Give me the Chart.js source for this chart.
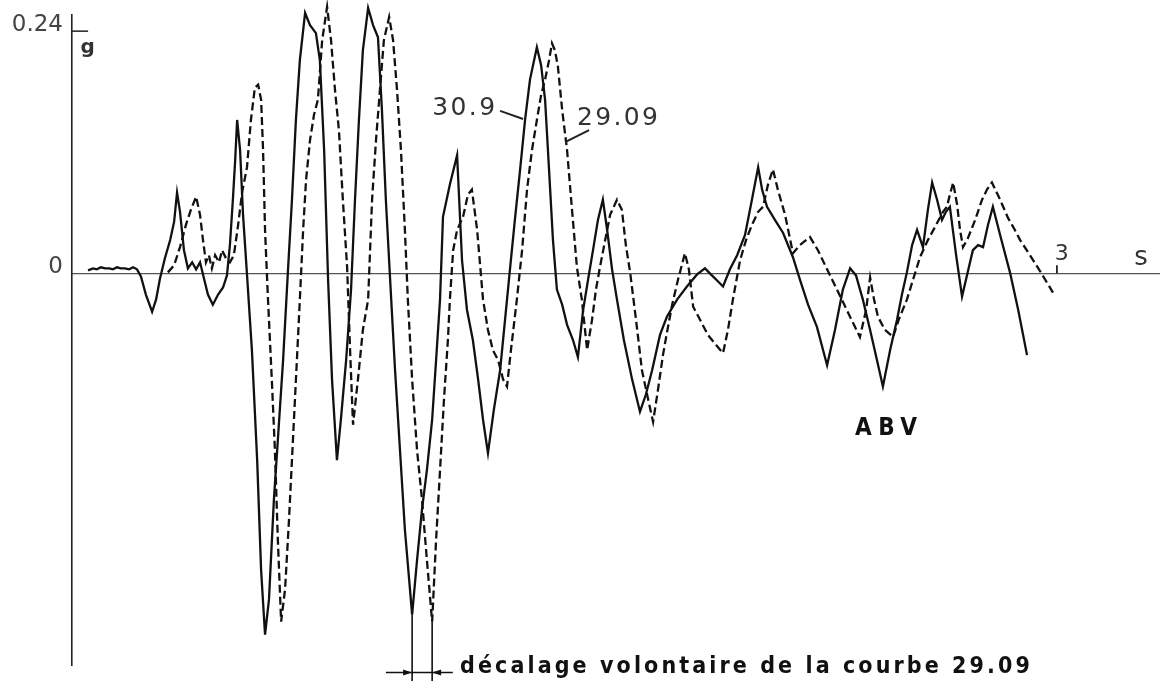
<!DOCTYPE html>
<html><head><meta charset="utf-8">
<script src="https://cdn.jsdelivr.net/npm/chart.js@4.4.1/dist/chart.umd.min.js"></script>
<style>html,body{margin:0;padding:0;background:#fff;overflow:hidden}canvas{display:block}</style>
</head><body>
<canvas id="c" width="1160" height="681"></canvas>
<script>
// ---- data (time in s, acceleration in g) ----
const seriesLabels = ['30.9', '29.09'];
const timeSolid = [0.049,0.064,0.076,0.088,0.101,0.113,0.125,0.137,0.149,0.161,0.174,0.186,0.198,
0.210,0.225,0.244,0.256,0.268,0.283,0.299,0.311,0.320,0.329,0.341,0.353,0.366,0.378,
0.390,0.402,0.414,0.429,0.445,0.460,0.472,0.481,0.490,0.497,0.503,0.512,0.521,0.533,
0.548,0.564,0.576,0.588,0.600,0.615,0.627,0.643,0.658,0.670,0.682,0.694,0.710,0.725,
0.743,0.755,0.768,0.780,0.792,0.807,0.819,0.835,0.850,0.862,0.874,0.886,0.902,0.917,
0.932,0.944,0.956,0.969,0.984,0.999,1.014,1.036,1.051,1.066,1.081,1.097,1.109,1.121,
1.130,1.151,1.173,1.188,1.203,1.221,1.237,1.252,1.267,1.285,1.304,1.319,1.334,1.349,
1.365,1.380,1.395,1.416,1.429,1.441,1.453,1.465,1.477,1.493,1.508,1.526,1.541,1.557,
1.572,1.587,1.602,1.617,1.630,1.645,1.660,1.681,1.706,1.730,1.748,1.767,1.791,1.812,
1.843,1.873,1.904,1.928,1.949,1.968,1.983,2.004,2.026,2.050,2.071,2.090,2.102,2.117,
2.141,2.166,2.196,2.217,2.242,2.269,2.300,2.324,2.348,2.370,2.388,2.409,2.431,2.452,
2.470,2.492,2.513,2.528,2.543,2.559,2.574,2.592,2.607,2.620,2.635,2.650,2.662,2.674,
2.693,2.711,2.726,2.744,2.760,2.775,2.790,2.805,2.827,2.857,2.882,2.909];
const accSolid = [0.003,0.005,0.004,0.006,0.005,0.005,0.004,0.006,0.005,0.005,0.004,0.006,0.004,
-0.003,-0.021,-0.038,-0.026,-0.005,0.015,0.033,0.051,0.080,0.061,0.023,0.005,0.011,0.004,
0.011,-0.005,-0.021,-0.031,-0.021,-0.014,-0.002,0.028,0.073,0.112,0.152,0.122,0.058,-0.001,
-0.076,-0.185,-0.294,-0.358,-0.323,-0.224,-0.165,-0.086,0.004,0.073,0.152,0.211,0.258,0.246,
0.238,0.211,0.122,-0.006,-0.105,-0.185,-0.145,-0.086,-0.016,0.073,0.152,0.221,0.263,0.246,
0.234,0.162,0.073,-0.006,-0.096,-0.175,-0.254,-0.338,-0.284,-0.234,-0.195,-0.145,-0.086,-0.026,
0.056,0.088,0.117,0.013,-0.036,-0.066,-0.105,-0.145,-0.178,-0.135,-0.096,-0.046,0.004,0.053,
0.103,0.152,0.192,0.224,0.206,0.172,0.103,0.033,-0.016,-0.031,-0.051,-0.066,-0.083,-0.036,
-0.006,0.023,0.053,0.073,0.043,0.004,-0.026,-0.066,-0.105,-0.137,-0.120,-0.096,-0.061,-0.043,
-0.026,-0.013,-0.001,0.005,-0.002,-0.008,-0.013,0.004,0.018,0.038,0.073,0.105,0.083,0.066,
0.053,0.040,0.016,-0.006,-0.031,-0.053,-0.091,-0.056,-0.016,0.005,-0.002,-0.026,-0.056,-0.086,
-0.112,-0.076,-0.046,-0.021,0.001,0.028,0.043,0.026,0.063,0.090,0.073,0.053,0.061,0.066,
0.018,-0.023,-0.002,0.023,0.028,0.026,0.048,0.066,0.038,0.001,-0.036,-0.081];
const timeDashed = [0.292,0.311,0.329,0.347,0.362,0.378,0.390,
0.399,0.408,0.417,0.426,0.436,0.448,0.457,
0.469,0.481,0.493,0.506,0.518,0.533,0.545,
0.557,0.567,0.576,0.582,0.588,0.597,0.609,
0.618,0.627,0.637,0.649,0.661,0.673,0.685,
0.694,0.704,0.713,0.725,0.737,0.749,0.762,
0.777,0.789,0.801,0.813,0.825,0.838,0.847,
0.856,0.871,0.886,0.902,0.914,0.926,0.938,
0.950,0.966,0.978,0.990,1.002,1.014,1.023,
1.036,1.051,1.066,1.081,1.097,1.109,1.121,
1.133,1.145,1.151,1.161,1.173,1.191,1.206,
1.218,1.234,1.252,1.267,1.282,1.298,1.313,
1.325,1.337,1.355,1.371,1.386,1.401,1.416,
1.429,1.441,1.453,1.462,1.471,1.480,1.493,
1.508,1.523,1.538,1.553,1.569,1.584,1.596,
1.608,1.624,1.639,1.660,1.675,1.687,1.700,
1.718,1.736,1.755,1.770,1.785,1.800,1.812,
1.828,1.846,1.867,1.879,1.892,1.913,1.937,
1.962,1.983,1.998,2.013,2.035,2.053,2.071,
2.090,2.105,2.120,2.135,2.150,2.172,2.196,
2.217,2.248,2.272,2.300,2.330,2.364,2.400,
2.419,2.431,2.443,2.455,2.476,2.501,2.518,
2.543,2.562,2.583,2.607,2.632,2.653,2.665,
2.674,2.684,2.696,2.705,2.714,2.729,2.751,
2.772,2.787,2.802,2.827,2.851,2.872,2.888,
2.918,2.949,2.988];
const accDashed = [0.001,0.008,0.026,0.048,0.063,0.076,0.058,
0.033,0.011,0.018,0.005,0.018,0.011,0.023,
0.015,0.011,0.018,0.048,0.080,0.105,0.152,
0.184,0.187,0.172,0.122,0.043,-0.026,-0.108,
-0.175,-0.264,-0.345,-0.313,-0.244,-0.165,-0.086,
-0.026,0.043,0.093,0.132,0.157,0.172,0.231,
0.264,0.231,0.182,0.142,0.073,0.006,-0.076,
-0.150,-0.105,-0.056,-0.026,0.073,0.132,0.182,
0.231,0.254,0.231,0.182,0.122,0.043,-0.026,
-0.105,-0.175,-0.224,-0.284,-0.345,-0.264,-0.195,
-0.125,-0.066,-0.026,0.023,0.043,0.056,0.078,
0.083,0.043,-0.026,-0.056,-0.076,-0.086,-0.105,
-0.112,-0.076,-0.026,0.023,0.083,0.122,0.152,
0.177,0.192,0.211,0.228,0.221,0.205,0.162,
0.122,0.063,0.006,-0.026,-0.076,-0.046,-0.016,
0.006,0.033,0.058,0.073,0.063,0.028,0.001,
-0.046,-0.096,-0.125,-0.147,-0.115,-0.081,-0.059,
-0.031,-0.006,0.020,0.004,-0.033,-0.046,-0.061,
-0.071,-0.079,-0.056,-0.026,0.013,0.033,0.048,
0.061,0.066,0.088,0.103,0.083,0.058,0.020,
0.028,0.036,0.023,0.004,-0.016,-0.039,-0.063,
-0.036,-0.004,-0.026,-0.043,-0.056,-0.063,-0.046,
-0.026,-0.006,0.016,0.033,0.048,0.061,0.066,
0.078,0.090,0.068,0.043,0.026,0.035,0.053,
0.073,0.083,0.090,0.073,0.055,0.043,0.033,
0.018,0.002,-0.019];
const yTickValues = [0, 0.24];
const yTickLabels = ['0', '0.24'];
const xTickValues = [3];
const xTickLabels = ['3'];
const unitY = 'g';
const unitX = 's';
const stationLabel = 'A B V';
const noteText = 'décalage volontaire de la courbe 29.09';

// ---- annotation layout (in axis units) ----
const ann = {
  lbl309: {t: 1.097, g: 0.157, w: 63},
  lead309: [[1.304, 0.161], [1.374, 0.153]],
  lbl2909: {t: 1.538, g: 0.147, w: 81},
  lead2909: [[1.575, 0.142], [1.502, 0.130]],
  station: {t: 2.385, g: -0.160, w: 62},
  unitY: {t: 0.026, g: 0.218},
  unitX: {t: 3.256, g: 0.008},
  xTickLbl: {t: 3.015, g: 0.013},
  yTickLen: 0.049, xTickLen: 0.008,
  dimY: -0.3955, dimFrom: 0.956, dimTo: 1.160,
  markBottom: -0.404,
  note: {t: 1.182, g: -0.3955, w: 570}
};

function fitText(ctx, text, font, x, y, w) {
  ctx.font = font;
  ctx.letterSpacing = '0px';
  const m = ctx.measureText(text).width;
  const ls = (w - m) / Math.max(1, text.length - 1);
  ctx.letterSpacing = ls.toFixed(2) + 'px';
  ctx.textAlign = 'left';
  ctx.textBaseline = 'alphabetic';
  ctx.fillText(text, x, y);
  ctx.letterSpacing = '0px';
}

const annotPlugin = {
  id: 'annot',
  afterDraw(chart) {
    const {ctx, scales: {x, y}} = chart;
    const X = v => x.getPixelForValue(v), Y = v => y.getPixelForValue(v);
    const seg = (a, b, c, d, w) => { ctx.lineWidth = w; ctx.beginPath(); ctx.moveTo(a, b); ctx.lineTo(c, d); ctx.stroke(); };
    ctx.save();
    ctx.strokeStyle = '#222'; ctx.fillStyle = '#222';
    seg(X(0), Y(yTickValues[1]), X(ann.yTickLen), Y(yTickValues[1]), 1.5);
    xTickValues.forEach(v => seg(X(v), Y(0), X(v), Y(ann.xTickLen), 1.8));
    ctx.fillStyle = '#333';
    ctx.font = 'bold 20px "DejaVu Sans", sans-serif'; ctx.textAlign = 'left'; ctx.textBaseline = 'alphabetic';
    ctx.fillText(unitY, X(ann.unitY.t), Y(ann.unitY.g));
    ctx.font = '26px "DejaVu Sans", sans-serif'; ctx.textAlign = 'center';
    ctx.fillText(unitX, X(ann.unitX.t), Y(ann.unitX.g));
    ctx.font = '22px "DejaVu Sans", sans-serif';
    ctx.fillText(xTickLabels[0], X(ann.xTickLbl.t), Y(ann.xTickLbl.g));
    fitText(ctx, seriesLabels[0], '25px "DejaVu Sans", sans-serif', X(ann.lbl309.t), Y(ann.lbl309.g), ann.lbl309.w);
    fitText(ctx, seriesLabels[1], '25px "DejaVu Sans", sans-serif', X(ann.lbl2909.t), Y(ann.lbl2909.g), ann.lbl2909.w);
    ctx.strokeStyle = '#222';
    seg(X(ann.lead309[0][0]), Y(ann.lead309[0][1]), X(ann.lead309[1][0]), Y(ann.lead309[1][1]), 2);
    seg(X(ann.lead2909[0][0]), Y(ann.lead2909[0][1]), X(ann.lead2909[1][0]), Y(ann.lead2909[1][1]), 2);
    ctx.fillStyle = '#111';
    fitText(ctx, stationLabel.replace(/ /g, ''), 'bold 24px "DejaVu Sans Condensed", "DejaVu Sans", sans-serif', X(ann.station.t), Y(ann.station.g), ann.station.w);
    const iS = accSolid.indexOf(Math.min(...accSolid.slice(70, 90)), 70);
    const iD = accDashed.indexOf(Math.min(...accDashed.slice(60, 75)), 60);
    const xs = X(timeSolid[iS]), xd = X(timeDashed[iD]);
    ctx.strokeStyle = '#111';
    seg(xs, Y(accSolid[iS]), xs, Y(ann.markBottom), 1.6);
    seg(xd, Y(accDashed[iD]), xd, Y(ann.markBottom), 1.6);
    const dy = Y(ann.dimY);
    seg(X(ann.dimFrom), dy, X(ann.dimTo), dy, 1.6);
    ctx.fillStyle = '#111';
    ctx.beginPath(); ctx.moveTo(xs, dy); ctx.lineTo(xs - 9, dy - 3); ctx.lineTo(xs - 9, dy + 3); ctx.closePath(); ctx.fill();
    ctx.beginPath(); ctx.moveTo(xd, dy); ctx.lineTo(xd + 9, dy - 3); ctx.lineTo(xd + 9, dy + 3); ctx.closePath(); ctx.fill();
    fitText(ctx, noteText, 'bold 23px "DejaVu Sans Condensed", "DejaVu Sans", sans-serif', X(ann.note.t), Y(ann.note.g), ann.note.w);
    ctx.restore();
  }
};

const toPts = (ts, vs) => ts.map((t, i) => ({x: t, y: vs[i]}));

new Chart(document.getElementById('c').getContext('2d'), {
  type: 'line',
  data: {
    datasets: [
      {label: seriesLabels[0], data: toPts(timeSolid, accSolid), borderColor: '#111', borderWidth: 2.3,
       pointRadius: 0, tension: 0, fill: false, clip: false},
      {label: seriesLabels[1], data: toPts(timeDashed, accDashed), borderColor: '#111', borderWidth: 2.3,
       borderDash: [8, 4], pointRadius: 0, tension: 0, fill: false, clip: false}
    ]
  },
  options: {
    responsive: false, animation: false, devicePixelRatio: 1,
    layout: {padding: {top: 15, bottom: 16, left: 0, right: 0}},
    plugins: {legend: {display: false}, tooltip: {enabled: false}},
    scales: {
      x: {
        type: 'linear', min: 0, max: 3.314, position: {y: 0},
        grid: {display: false, drawTicks: false},
        ticks: {display: false},
        border: {display: true, color: '#555', width: 1.3}
      },
      y: {
        type: 'linear', min: -0.388, max: 0.256,
        grid: {display: false, drawTicks: false},
        border: {display: true, color: '#222', width: 1.6},
        afterBuildTicks(s) { s.ticks = yTickValues.map(v => ({value: v})); },
        afterFit(s) { s.width = 72; s.paddingTop = 0; s.paddingBottom = 0; },
        ticks: {
          font: {family: '"DejaVu Sans", sans-serif', size: 23}, color: '#444', padding: 9, labelOffset: -6,
          callback: v => yTickLabels[yTickValues.indexOf(v)]
        }
      }
    }
  },
  plugins: [annotPlugin]
});
</script>
</body></html>
